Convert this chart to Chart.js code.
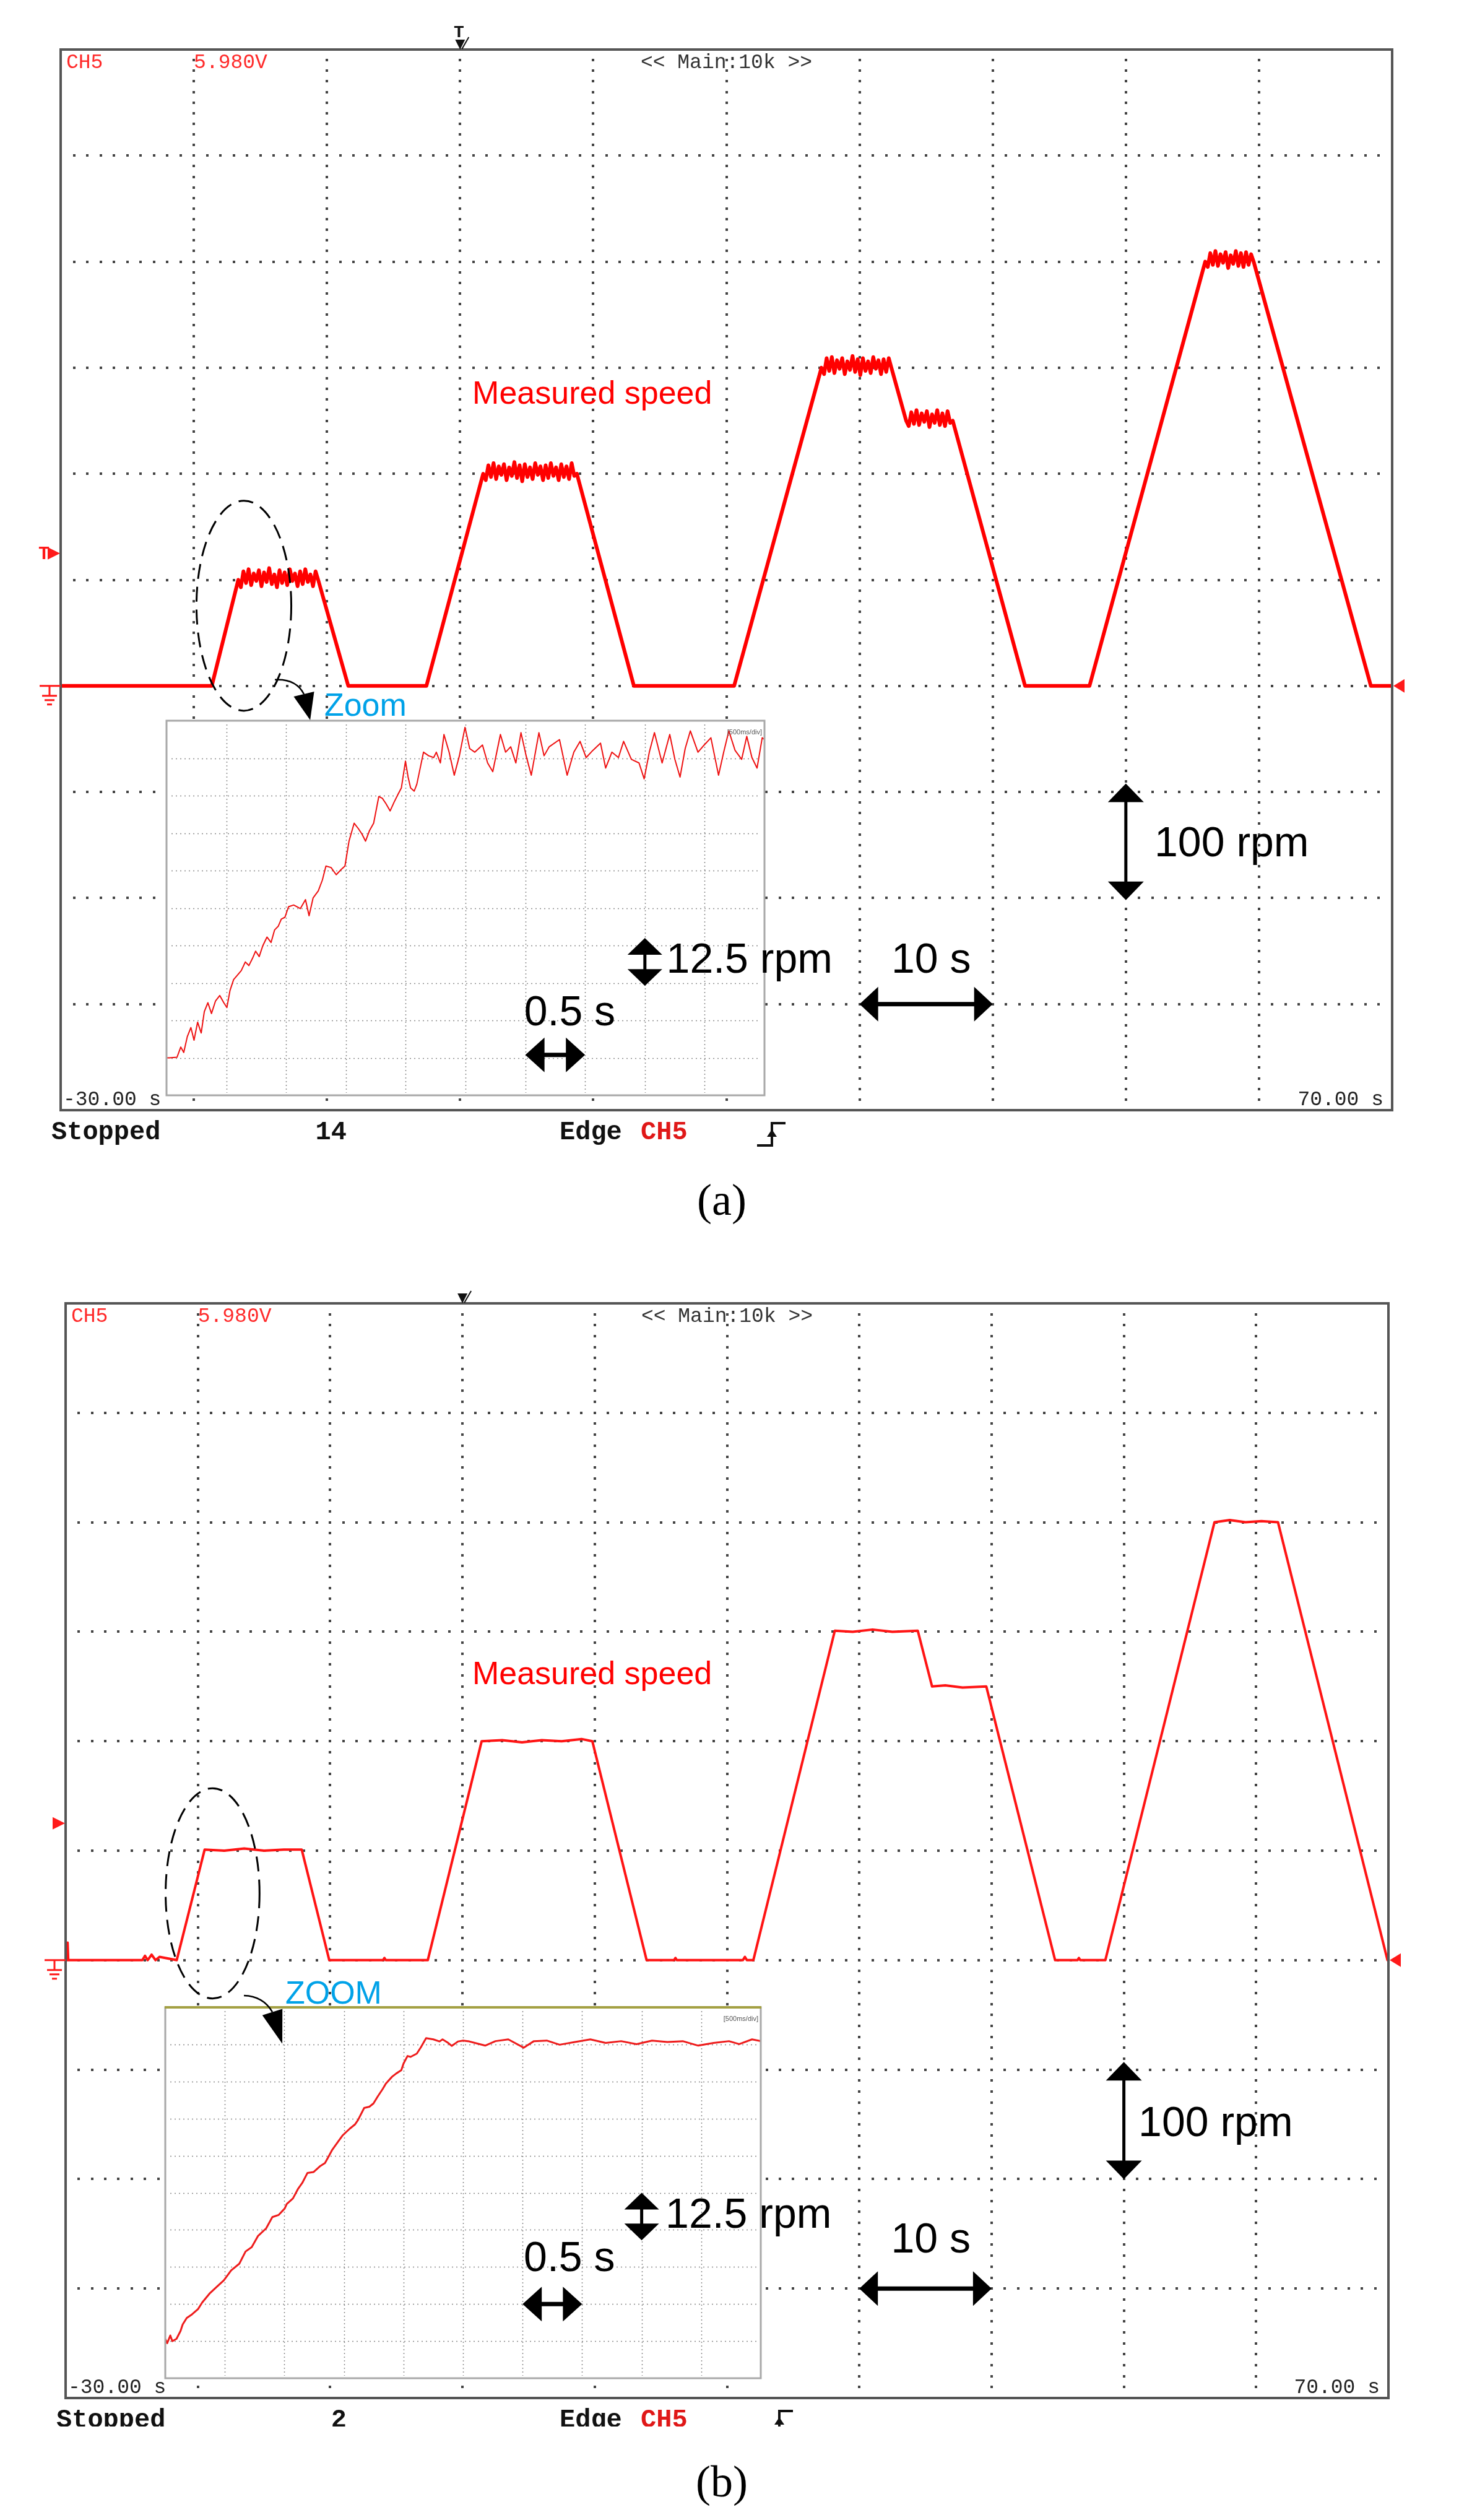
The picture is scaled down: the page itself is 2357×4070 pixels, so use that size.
<!DOCTYPE html>
<html>
<head>
<meta charset="utf-8">
<title>Measured speed</title>
<script src="https://cdn.jsdelivr.net/npm/chart.js@4.4.0/dist/chart.umd.min.js"></script>
<style>
  html, body { margin: 0; padding: 0; background: #fff; }
  #page { position: relative; width: 2357px; height: 4070px; overflow: hidden; background: #fff; }
  .panel { position: absolute; left: 0; width: 2357px; }
  .panel canvas { position: absolute; left: 0; top: 0; }
</style>
</head>
<body>
<div id="page">
  <div class="panel" style="top:0;height:2000px">
    <canvas id="mainA" width="2357" height="2000"></canvas>
    <canvas id="zoomA" width="2357" height="2000"></canvas>
  </div>
  <div class="panel" style="top:2000px;height:2070px">
    <canvas id="mainB" width="2357" height="2070"></canvas>
    <canvas id="zoomB" width="2357" height="2070"></canvas>
  </div>
</div>
<script>
// Scope screen: 10 s/div, 100 rpm/div
const timeRange = [-30, 70];
const speedRange = [-400, 600];
const timeTicks = [-20, -10, 0, 10, 20, 30, 40, 50, 60];
const speedTicks = [-300, -200, -100, 0, 100, 200, 300, 400, 500];
const triggerLevel = 125;

// Zoom window: 0.5 s/div, 12.5 rpm/div
const zoomTimeRange = [0, 5];
const zoomSpeedRange = [-12.5, 112.5];
const zoomTimeTicks = [0.5, 1, 1.5, 2, 2.5, 3, 3.5, 4, 4.5];
const zoomSpeedTicks = [0, 12.5, 25, 37.5, 50, 62.5, 75, 87.5, 100];

// (a) measured speed, corners of the profile (s, rpm)
const cornerTimeA  = [-30, -18.65, -16.66, -10.66, -8.4, -2.53, 1.73, 8.77, 13.05, 20.58, 27.14, 32.39, 33.5, 37.0, 42.43, 47.27, 55.96, 59.6, 68.4, 70];
const cornerSpeedA = [0, 0, 100, 100, 0, 0, 200, 200, 0, 0, 300, 300, 250, 250, 0, 0, 400, 400, 0, 0];
// (a) ripple read on each plateau, in order
const rippleA1 = [93,108,97,110,95,106,99,109,94,107,98,111,96,105,93,109,97,107,95,110,99,106,94,108,96,110,98,105,94,108];
const rippleA2 = [194,208,197,210,195,207,199,209,194,206,198,211,196,208,193,209,197,206,195,210,199,207,194,208,196,210,198,206,194,209,197,207,195,210,198];
const rippleA3 = [294,309,297,310,295,307,299,309,294,306,298,311,296,308,293,309,297,306,295,310,299,307,294,308,296,309];
const rippleA4 = [245,258,247,260,246,257,249,259,244,256,248,260,246,257,245,259,248];
const rippleA5 = [395,408,397,410,396,407,399,409,394,406,398,410,396,408,395,409,397,407];

// (a) zoom on the first acceleration
const zoomTimeA = [0, 0.024, 0.088, 0.119, 0.144, 0.174, 0.204, 0.230, 0.260, 0.290, 0.316, 0.346, 0.376, 0.410, 0.445, 0.479, 0.505, 0.531, 0.561, 0.591, 0.625, 0.659, 0.689, 0.719, 0.745, 0.775, 0.805, 0.840, 0.874, 0.904, 0.934, 0.960, 0.990, 1.020, 1.063, 1.119, 1.162, 1.192, 1.226, 1.269, 1.303, 1.333, 1.376, 1.419, 1.462, 1.492, 1.526, 1.569, 1.604, 1.634, 1.664, 1.698, 1.732, 1.775, 1.805, 1.835, 1.870, 1.904, 1.934, 1.964, 1.998, 2.020, 2.041, 2.071, 2.093, 2.127, 2.149, 2.192, 2.234, 2.256, 2.290,
  2.320, 2.363, 2.406, 2.449, 2.496, 2.535, 2.578, 2.642, 2.685, 2.728, 2.792, 2.835, 2.878, 2.921, 2.964, 3.007, 3.050, 3.114, 3.157, 3.200, 3.286, 3.350, 3.406, 3.458, 3.509, 3.565, 3.629, 3.672, 3.724, 3.779, 3.822, 3.887, 3.951, 3.994, 4.037, 4.080, 4.144, 4.208, 4.251, 4.294, 4.337, 4.380, 4.444, 4.496, 4.552, 4.616, 4.659, 4.702, 4.754, 4.809, 4.852, 4.895, 4.938, 4.981, 5.0];
const zoomSpeedA = [0, 0, 0.2, 3.6, 1.8, 7.1, 10.1, 5.9, 11.9, 8.3, 15.4, 18.4, 14.8, 19, 20.8, 18.4, 16.8, 22.5, 26.1, 27.5, 29.1, 32, 30.8, 33.2, 35.6, 33.8, 37.4, 40.3, 38.5, 42.7, 43.9, 46.3, 46.9, 50.4, 51, 49.8, 52.8, 47.4, 53.4, 55.7, 59.3, 64, 63.5, 61.1, 62.9, 64, 72.3, 78.3, 76.5, 74.7, 72.3, 75.9, 78.3, 87.2, 86.6, 84.8, 82.4, 85.4, 87.8, 90.1, 99, 93.7, 90.1, 89, 91.3, 97.8, 102, 100.8, 100.2, 102, 98.4,
  107.9, 102, 94.3, 100.8, 110.3, 103.2, 102, 104.4, 98.4, 95.5, 107.9, 102, 103.8, 98.4, 108.5, 100.8, 94.3, 108.5, 100.8, 103.8, 106.2, 94.3, 102, 105.6, 100.2, 102.6, 105, 96.7, 102, 100.2, 105.6, 99.6, 98.4, 93.1, 102, 108.5, 98.4, 107.9, 99.6, 93.7, 103.2, 109.1, 102, 104.4, 106.8, 94.3, 102, 109.1, 102.6, 99.6, 107.3, 100.2, 96.7, 106.8, 106.2];

// (b) measured speed
const timeB  = [-30, -29.9, -29.85, -29.8, -24.2, -24.0, -23.8, -23.5, -23.2, -22.9, -21.6, -19.49, -18.0, -16.5, -15.0, -13.5, -12.15, -10.07, -6.0, -5.9, -5.8, -2.62, 1.45, 3.0, 4.5, 6.0, 7.5, 9.0, 9.82, 13.92, 16.0, 16.1, 16.2, 21.2, 21.35, 21.5, 21.99, 28.15, 29.5, 31.0, 32.5, 34.42, 35.5, 36.5, 37.8, 39.6, 44.8, 46.5, 46.6, 46.7, 48.6, 56.85, 58.0, 59.2, 60.4, 61.65, 69.93, 70];
const speedB = [0, 0, 16, 0, 0, 4, 0, 5, 0, 3, 0, 101, 100, 102, 100, 101, 101, 0, 0, 2, 0, 0, 200, 201, 199, 201, 200, 202, 200, 0, 0, 2, 0, 0, 3, 0, 0, 301, 300, 302, 300, 301, 250, 251, 249, 250, 0, 0, 2, 0, 0, 400, 402, 400, 401, 400, 0, 0];

// (b) zoom on the first acceleration
const zoomTimeB  = [0, 0.016, 0.042, 0.059, 0.094, 0.128, 0.146, 0.18, 0.224, 0.275, 0.31, 0.371, 0.431, 0.492, 0.553, 0.622, 0.674, 0.726, 0.778, 0.847, 0.899, 0.951, 1.003, 1.02, 1.072, 1.116, 1.15, 1.194, 1.246, 1.298, 1.341, 1.367, 1.402, 1.454, 1.488, 1.549, 1.592, 1.618, 1.67, 1.714, 1.748, 1.783, 1.826, 1.852, 1.904, 1.939, 1.982, 2.0, 2.034, 2.06, 2.112, 2.147, 2.19, 2.251, 2.303, 2.328, 2.372, 2.406, 2.458, 2.501, 2.553, 2.600, 2.686, 2.772, 2.880, 3.009, 3.095, 3.203, 3.311, 3.440, 3.569, 3.698, 3.828, 3.957, 4.087, 4.216, 4.345, 4.475, 4.604, 4.733, 4.819, 4.927, 5.0];
const zoomSpeedB = [0.75, -0.7, 1.9, 0, 0.75, 3.4, 5.6, 7.8, 9, 10.8, 13, 16, 18.25, 20.5, 23.85, 26.1, 30.2, 31.7, 35.4, 38, 41.8, 42.5, 44.7, 46.2, 48.1, 51.4, 53.3, 56.7, 57, 58.9, 60, 61.9, 64.5, 67.4, 69.3, 71.6, 73, 74.5, 78.6, 79, 80.1, 82.4, 85, 86.8, 89.1, 90.2, 91.3, 93.5, 96.1, 95.8, 96.9, 99.1, 102.1, 101.7, 101, 101.7, 100.6, 99.5, 101, 101.3, 101, 100.5, 99.6, 101.1, 101.7, 98.9, 101.1, 101.3, 99.9, 100.8, 101.7, 100.5, 101.1, 100.1, 101.3, 100.8, 101.1, 99.6, 100.5, 101.1, 100.1, 101.7, 101.1];

const sans = "'Liberation Sans', Arial, sans-serif";
const mono = "'Liberation Mono', 'DejaVu Sans Mono', monospace";
const serif = "'Liberation Serif', 'Times New Roman', serif";

// Annotations of each panel, in data units of the screen / zoom window
const panelA = {
  counter: '14', topT: true, caption: '(a)', captionY: 1962, clipY: null, edgeX: 1223,
  speedLabel: { t: 0.92, v: 266 },
  ellipse: { t: -16.24, v: 75.6, rt: 3.56, rv: 99 },
  curve: [{ t: -13.91, v: 5.8 }, { t: -12.33, v: 7 }, { t: -11.73, v: -7.7 }],
  tip: { t: -11.26, v: -32.2 },
  zoomWord: 'Zoom', zoomWordAt: { t: -10.2, v: -28 }, zoomTop: null,
  rpmArrow: { t: 50, v1: -92, v2: -202 }, rpmLabel: { t: 52.15, v: -160.5 },
  secArrow: { v: -300, t1: 30, t2: 40 }, secLabel: { t: 32.39, v: -270.3 },
  zRpmArrow: { t: 4, v1: 24, v2: 40 }, zRpmLabel: { t: 4.18, v: 28.4 },
  zSecArrow: { v: 1, t1: 3, t2: 3.5 }, zSecLabel: { t: 2.99, v: 10.8 }
};
const panelB = {
  counter: '2', topT: false, caption: '(b)', captionY: 2032, clipY: 1919, edgeX: 1235,
  speedLabel: { t: 0.74, v: 252 },
  ellipse: { t: -18.89, v: 61, rt: 3.55, rv: 96 },
  curve: [{ t: -16.52, v: -32.4 }, { t: -15.07, v: -32.9 }, { t: -14.37, v: -47.4 }],
  tip: { t: -13.62, v: -76.3 },
  zoomWord: 'ZOOM', zoomWordAt: { t: -13.39, v: -39.7 }, zoomTop: '#a3a043',
  rpmArrow: { t: 50, v1: -93, v2: -200 }, rpmLabel: { t: 51.1, v: -160.7 },
  secArrow: { v: -300, t1: 30, t2: 40 }, secLabel: { t: 32.4, v: -267 },
  zRpmArrow: { t: 4, v1: 34, v2: 50 }, zRpmLabel: { t: 4.2, v: 38.2 },
  zSecArrow: { v: 12.5, t1: 3, t2: 3.5 }, zSecLabel: { t: 3.01, v: 23.6 }
};

// corners + plateau ripple spread over each plateau
function buildTrace(times, speeds, ripples) {
  const pts = [];
  let r = 0;
  for (let i = 0; i < times.length; i++) {
    pts.push({ x: times[i], y: speeds[i] });
    if (i < times.length - 1 && speeds[i] !== 0 && speeds[i] === speeds[i + 1] && ripples[r]) {
      const vals = ripples[r++];
      const dt = (times[i + 1] - times[i]) / (vals.length + 1);
      vals.forEach((v, k) => pts.push({ x: times[i] + (k + 1) * dt, y: v }));
    }
  }
  return pts;
}
const zip = (ts, vs) => ts.map((t, i) => ({ x: t, y: vs[i] }));

function text(ctx, str, x, y, font, color, align) {
  ctx.font = font;
  ctx.fillStyle = color;
  ctx.textAlign = align || 'left';
  ctx.textBaseline = 'alphabetic';
  ctx.fillText(str, x, y);
}

function head(ctx, tx, ty, dx, dy, len, half) {
  const bx = tx - dx * len, by = ty - dy * len;
  ctx.beginPath();
  ctx.moveTo(tx, ty);
  ctx.lineTo(bx - dy * half, by + dx * half);
  ctx.lineTo(bx + dy * half, by - dx * half);
  ctx.closePath();
  ctx.fill();
}

function doubleArrow(ctx, x1, y1, x2, y2, len, half, shaft) {
  const L = Math.hypot(x2 - x1, y2 - y1), dx = (x2 - x1) / L, dy = (y2 - y1) / L;
  ctx.strokeStyle = '#000';
  ctx.fillStyle = '#000';
  ctx.lineWidth = shaft;
  ctx.setLineDash([]);
  ctx.beginPath();
  ctx.moveTo(x1 + dx * len * 0.7, y1 + dy * len * 0.7);
  ctx.lineTo(x2 - dx * len * 0.7, y2 - dy * len * 0.7);
  ctx.stroke();
  head(ctx, x2, y2, dx, dy, len, half);
  head(ctx, x1, y1, -dx, -dy, len, half);
}

function edgeMark(ctx, x0, y0) {
  ctx.strokeStyle = '#111';
  ctx.fillStyle = '#111';
  ctx.lineWidth = 4;
  ctx.beginPath();
  ctx.moveTo(x0, y0 + 38);
  ctx.lineTo(x0 + 24, y0 + 38);
  ctx.lineTo(x0 + 24, y0 + 2);
  ctx.lineTo(x0 + 46, y0 + 2);
  ctx.stroke();
  head(ctx, x0 + 24, y0 + 12, 0, -1, 12, 8);
}

// Scope screen: dotted graticule, frame, readouts, markers and labels
function scopeDecor(p) {
  return {
    id: 'scopeDecor',
    beforeDatasetsDraw(chart) {
      const { ctx, scales: { x, y } } = chart;
      ctx.save();
      ctx.fillStyle = '#444';
      timeTicks.forEach(t => {
        const gx = Math.round(x.getPixelForValue(t));
        for (let k = 1; k < 100; k++) {
          const gy = Math.round(y.getPixelForValue(speedRange[0] + k * 10));
          ctx.fillRect(gx - 2, gy - 2, 4, 4);
        }
      });
      speedTicks.forEach(v => {
        const gy = Math.round(y.getPixelForValue(v));
        for (let k = 1; k < 100; k++) {
          const gx = Math.round(x.getPixelForValue(timeRange[0] + k));
          ctx.fillRect(gx - 2, gy - 2, 4, 4);
        }
      });
      ctx.restore();
    },
    afterDraw(chart) {
      const { ctx, chartArea: a, scales: { x, y } } = chart;
      const px = t => x.getPixelForValue(t);
      const py = v => y.getPixelForValue(v);
      ctx.save();

      // frame
      ctx.strokeStyle = '#555';
      ctx.lineWidth = 4;
      ctx.strokeRect(a.left, a.top, a.right - a.left, a.bottom - a.top);

      // readouts
      const f33 = `33px ${mono}`;
      text(ctx, 'CH5', a.left + 9, a.top + 30, f33, '#ff2a2a');
      text(ctx, '5.980V', px(-20), a.top + 30, f33, '#ff2a2a');
      text(ctx, '<< Main:10k >>', (a.left + a.right) / 2, a.top + 30, f33, '#333', 'center');
      text(ctx, timeRange[0].toFixed(2) + ' s', a.left + 4, a.bottom - 8, f33, '#222');
      text(ctx, timeRange[1].toFixed(2) + ' s', a.right - 14, a.bottom - 8, f33, '#222', 'right');

      // status line under the screen
      ctx.save();
      if (p.clipY) { ctx.beginPath(); ctx.rect(0, 0, chart.width, p.clipY); ctx.clip(); }
      const f42 = `bold 42px ${mono}`;
      const sy = a.bottom + 47;
      text(ctx, 'Stopped', a.left - 15, sy, f42, '#111');
      text(ctx, p.counter, 560, sy, f42, '#111', 'right');
      text(ctx, 'Edge', 904, sy, f42, '#111');
      text(ctx, 'CH5', 1035, sy, f42, '#e01818');
      edgeMark(ctx, p.edgeX, a.bottom + 19);
      ctx.restore();

      // trigger position mark (top)
      const tx = px(0);
      ctx.fillStyle = '#111';
      head(ctx, tx, a.top, 0, 1, 16, 8);
      ctx.strokeStyle = '#111';
      ctx.lineWidth = 2;
      ctx.beginPath();
      ctx.moveTo(tx + 3, a.top - 1);
      ctx.lineTo(tx + 14, a.top - 20);
      ctx.stroke();
      if (p.topT) text(ctx, 'T', tx - 2, a.top - 20, `bold 28px ${mono}`, '#111', 'center');

      // trigger level mark (left)
      const ly = py(triggerLevel);
      ctx.fillStyle = '#ff1a1a';
      head(ctx, a.left - 1, ly, 1, 0, 20, 10);
      if (p.topT) text(ctx, 'T', a.left - 27, ly + 9, `bold 30px ${mono}`, '#ff1a1a', 'center');

      // ground mark (left) and zero mark (right)
      const zy = py(0);
      ctx.strokeStyle = '#ff1a1a';
      ctx.lineWidth = 3;
      ctx.beginPath();
      ctx.moveTo(a.left - 34, zy); ctx.lineTo(a.left, zy);
      ctx.moveTo(a.left - 18, zy); ctx.lineTo(a.left - 18, zy + 16);
      ctx.moveTo(a.left - 30, zy + 16); ctx.lineTo(a.left - 6, zy + 16);
      ctx.moveTo(a.left - 26, zy + 23); ctx.lineTo(a.left - 10, zy + 23);
      ctx.moveTo(a.left - 22, zy + 30); ctx.lineTo(a.left - 14, zy + 30);
      ctx.stroke();
      head(ctx, a.right + 2, zy, -1, 0, 18, 11);

      // label
      text(ctx, 'Measured speed', px(p.speedLabel.t), py(p.speedLabel.v), `52px ${sans}`, '#ff0000');

      // dashed ellipse around the zoomed part
      const e = p.ellipse;
      ctx.strokeStyle = '#000';
      ctx.lineWidth = 3;
      ctx.setLineDash([24, 13]);
      ctx.beginPath();
      ctx.ellipse(px(e.t), py(e.v), px(e.t + e.rt) - px(e.t), py(e.v - e.rv) - py(e.v), 0, 0, Math.PI * 2);
      ctx.stroke();
      ctx.setLineDash([]);

      // scale arrows
      const ra = p.rpmArrow, sa = p.secArrow;
      doubleArrow(ctx, px(ra.t), py(ra.v1), px(ra.t), py(ra.v2), 30, 29, 5);
      text(ctx, '100 rpm', px(p.rpmLabel.t), py(p.rpmLabel.v), `68px ${sans}`, '#000');
      doubleArrow(ctx, px(sa.t1), py(sa.v), px(sa.t2), py(sa.v), 30, 28, 7);
      text(ctx, '10 s', px(p.secLabel.t), py(p.secLabel.v), `68px ${sans}`, '#000');

      // caption
      text(ctx, p.caption, 1166, p.captionY, `72px ${serif}`, '#000', 'center');
      ctx.restore();
    }
  };
}

// Zoom window: white background, fine graticule, frame and its labels
function zoomDecor(p, main) {
  return {
    id: 'zoomDecor',
    beforeDatasetsDraw(chart) {
      const { ctx, chartArea: a, scales: { x, y } } = chart;
      ctx.save();
      ctx.fillStyle = '#fff';
      ctx.fillRect(a.left, a.top, a.right - a.left, a.bottom - a.top);
      ctx.strokeStyle = '#8c8c8c';
      ctx.lineWidth = 1.5;
      ctx.setLineDash([2, 4]);
      zoomTimeTicks.forEach(t => {
        const gx = Math.round(x.getPixelForValue(t)) + 0.5;
        ctx.beginPath(); ctx.moveTo(gx, a.top + 6); ctx.lineTo(gx, a.bottom - 4); ctx.stroke();
      });
      ctx.setLineDash([2, 5]);
      zoomSpeedTicks.forEach(v => {
        const gy = Math.round(y.getPixelForValue(v)) + 0.5;
        ctx.beginPath(); ctx.moveTo(a.left + 8, gy); ctx.lineTo(a.right - 6, gy); ctx.stroke();
      });
      ctx.restore();
    },
    afterDraw(chart) {
      const { ctx, chartArea: a, scales: { x, y } } = chart;
      const mx = main.scales.x, my = main.scales.y;
      const mpx = t => mx.getPixelForValue(t);
      const mpy = v => my.getPixelForValue(v);
      const zx = t => x.getPixelForValue(t);
      const zy = v => y.getPixelForValue(v);
      ctx.save();

      // frame
      ctx.strokeStyle = '#a8a8a8';
      ctx.lineWidth = 3;
      ctx.strokeRect(a.left, a.top, a.right - a.left, a.bottom - a.top);
      if (p.zoomTop) {
        ctx.strokeStyle = p.zoomTop;
        ctx.lineWidth = 4;
        ctx.beginPath(); ctx.moveTo(a.left - 1, a.top); ctx.lineTo(a.right + 1, a.top); ctx.stroke();
      }
      text(ctx, '[500ms/div]', a.right - 4, a.top + 22, `11px ${sans}`, '#555', 'right');

      // curved pointer from the ellipse to the zoom window
      const c = p.curve;
      ctx.strokeStyle = '#000';
      ctx.lineWidth = 2.5;
      ctx.beginPath();
      ctx.moveTo(mpx(c[0].t), mpy(c[0].v));
      ctx.quadraticCurveTo(mpx(c[1].t), mpy(c[1].v), mpx(c[2].t), mpy(c[2].v));
      ctx.stroke();
      const bx = mpx(c[2].t), by = mpy(c[2].v), tx = mpx(p.tip.t), ty = mpy(p.tip.v);
      const L = Math.hypot(tx - bx, ty - by);
      ctx.fillStyle = '#000';
      head(ctx, tx, ty, (tx - bx) / L, (ty - by) / L, L, 17);
      text(ctx, p.zoomWord, mpx(p.zoomWordAt.t), mpy(p.zoomWordAt.v), `52px ${sans}`, '#00a2e8');

      // zoom scale arrows
      const ra = p.zRpmArrow, sa = p.zSecArrow;
      doubleArrow(ctx, zx(ra.t), zy(ra.v1), zx(ra.t), zy(ra.v2), 27, 28, 5);
      text(ctx, '12.5 rpm', zx(p.zRpmLabel.t), zy(p.zRpmLabel.v), `68px ${sans}`, '#000');
      doubleArrow(ctx, zx(sa.t1), zy(sa.v), zx(sa.t2), zy(sa.v), 31, 28, 7);
      text(ctx, '0.5 s', zx(p.zSecLabel.t), zy(p.zSecLabel.v), `68px ${sans}`, '#000');
      ctx.restore();
    }
  };
}

function makeChart(id, points, color, width, padding, xr, yr, plugin) {
  return new Chart(document.getElementById(id), {
    type: 'line',
    data: {
      datasets: [{
        data: points,
        borderColor: color,
        borderWidth: width,
        pointRadius: 0,
        tension: 0,
        fill: false,
        borderJoinStyle: 'round'
      }]
    },
    options: {
      responsive: false,
      animation: false,
      devicePixelRatio: 1,
      events: [],
      layout: { padding },
      scales: {
        x: { type: 'linear', min: xr[0], max: xr[1], display: false },
        y: { type: 'linear', min: yr[0], max: yr[1], display: false }
      },
      plugins: { legend: { display: false }, tooltip: { enabled: false } }
    },
    plugins: [plugin]
  });
}

const traceA = buildTrace(cornerTimeA, cornerSpeedA, [rippleA1, rippleA2, rippleA3, rippleA4, rippleA5]);
const mainA = makeChart('mainA', traceA, '#ff0000', 6,
  { left: 98, top: 80, right: 108, bottom: 207 }, timeRange, speedRange, scopeDecor(panelA));
makeChart('zoomA', zip(zoomTimeA, zoomSpeedA), '#ee1111', 2,
  { left: 269, top: 1164, right: 1122, bottom: 231 }, zoomTimeRange, zoomSpeedRange, zoomDecor(panelA, mainA));

const mainB = makeChart('mainB', zip(timeB, speedB), '#ff1414', 4,
  { left: 106, top: 105, right: 114, bottom: 197 }, timeRange, speedRange, scopeDecor(panelB));
makeChart('zoomB', zip(zoomTimeB, zoomSpeedB), '#ee1c1c', 3,
  { left: 267, top: 1242, right: 1128, bottom: 229 }, zoomTimeRange, zoomSpeedRange, zoomDecor(panelB, mainB));
</script>
</body>
</html>
